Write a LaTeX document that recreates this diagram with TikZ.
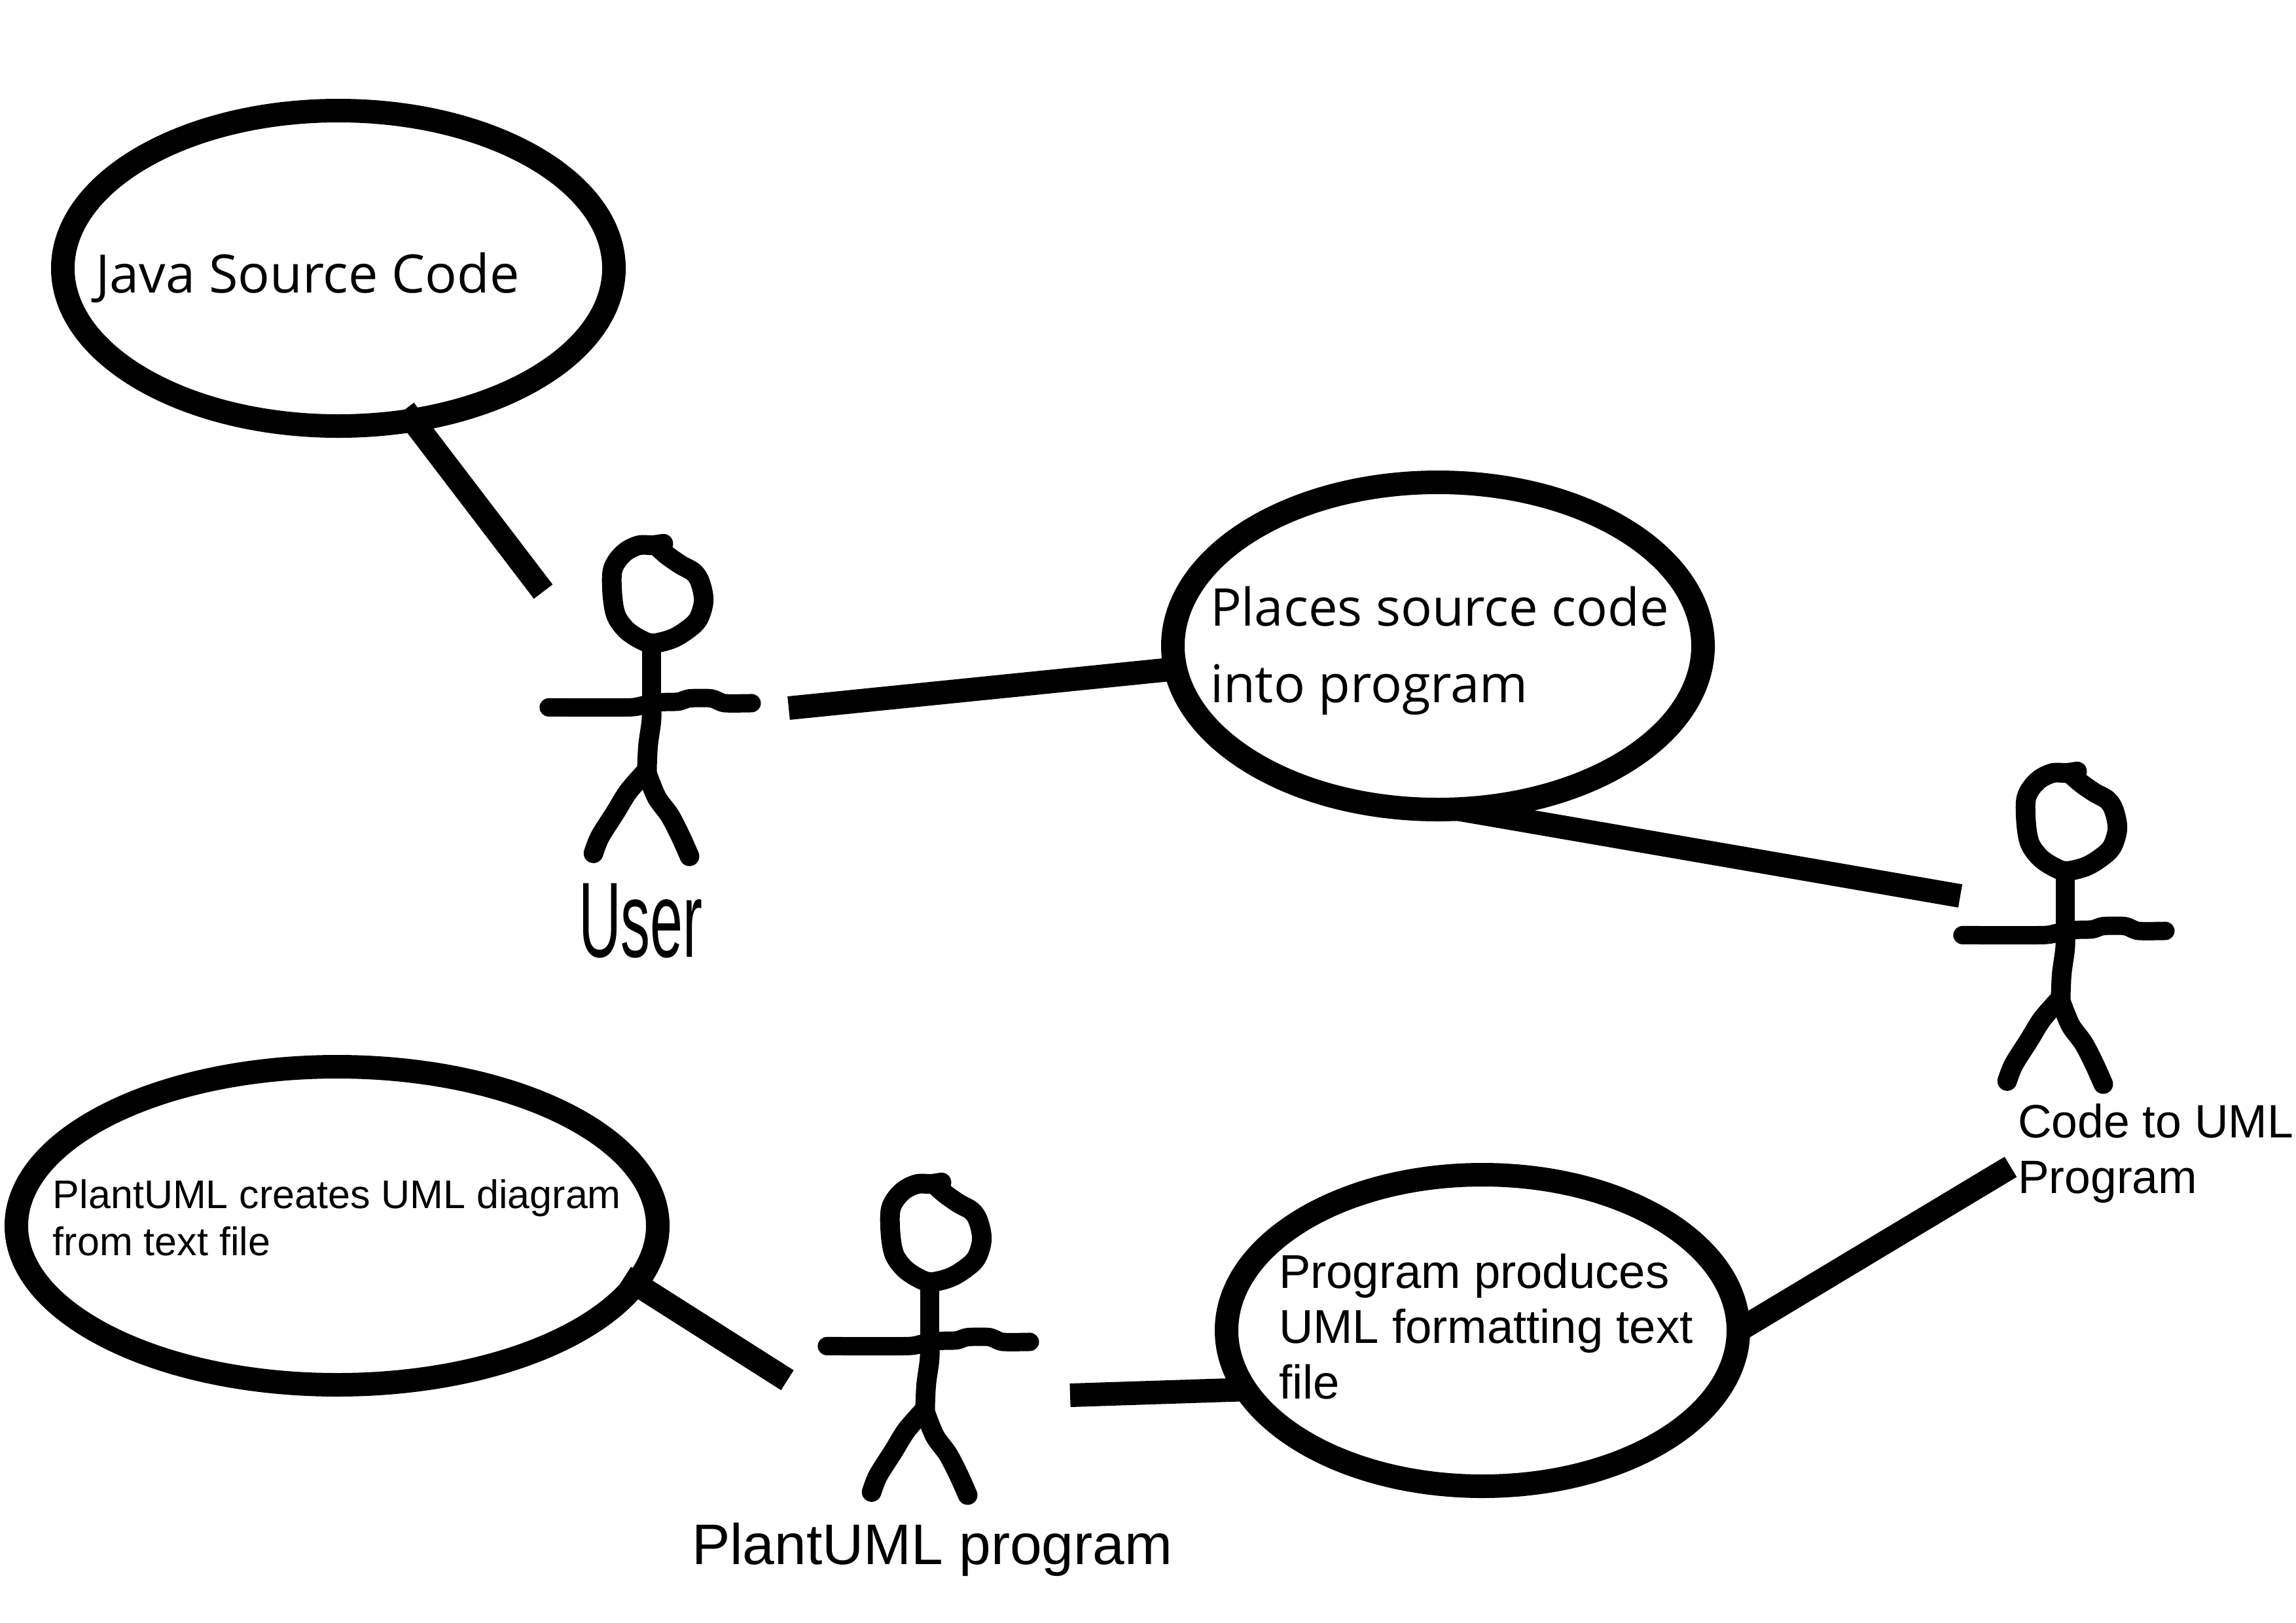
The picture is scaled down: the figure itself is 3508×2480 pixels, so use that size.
\documentclass[tikz,border=0pt]{standalone}
\usepackage{fontspec}
\setmainfont{Liberation Sans}
\newfontfamily\segoe{Open Sans}
\usetikzlibrary{shapes.geometric}
\newcommand{\txtlines}[1]{\begin{tabular}[t]{@{}l@{}}#1\end{tabular}}
\tikzset{
  x=0.2pt,y=-0.2pt,
  usecase/.style={draw=black,line width=7.2pt,ellipse,inner sep=0pt,outer sep=0pt},
  link/.style={draw=black,line width=7.2pt,line cap=butt},
  lbl/.style={anchor=base west,inner sep=0pt,outer sep=0pt,text=black},
  pics/actor/.style={code={
    \begin{scope}[x=0.0667pt,y=-0.0923pt,line join=round,line cap=round]
      \draw[line width=6pt] plot[smooth,tension=.55] coordinates {(640,110)(590,115)(530,115)(470,135)(425,170)(405,210)(408,290)(425,350)(470,395)(530,425)(590,440)(680,425)(750,395)(800,360)(825,300)(810,240)(780,205)(720,180)(660,150)(620,125)};
      \draw[line width=5.8pt,line cap=butt] (587,440)--(587,650);
      \draw[line width=6pt] plot[smooth,tension=.5] coordinates {(587,650)(585,700)(570,780)(565,860)};
      \draw[line width=5.6pt] plot[smooth,tension=.4] coordinates {(115,652)(480,652)(545,645)(630,635)(710,633)(760,622)(860,622)(920,638)(1045,638)};
      \draw[line width=6pt] plot[smooth,tension=.5] coordinates {(565,860)(480,930)(420,1000)(350,1080)(320,1135)};
      \draw[line width=6pt] plot[smooth,tension=.5] coordinates {(565,870)(610,950)(670,1010)(720,1080)(760,1145)};
    \end{scope}
  }}
}
\begin{document}
\begin{tikzpicture}
\useasboundingbox (0,0) rectangle (3508,2480);
\fill[white] (0,0) rectangle (3508,2480);

% use cases
\node[usecase,minimum width=168.4pt,minimum height=96.4pt] (e1) at (517,410) {};
\node[usecase,minimum width=162pt,minimum height=100pt] (e2) at (2197,987) {};
\node[usecase,minimum width=196pt,minimum height=97.2pt] (e3) at (515,1873) {};
\node[usecase,minimum width=156.4pt,minimum height=95.2pt] (e4) at (2265,2033) {};

% actors
\pic (user) at (800,780) {actor};
\pic (code) at (2960,1128) {actor};
\pic (plant) at (1225,1756) {actor};

% free ends, beside the actors
\coordinate (userA) at (830,904);
\coordinate (userB) at (1205,1082);
\coordinate (codeA) at (2995,1369);
\coordinate (codeB) at (3072,1783);
\coordinate (plantA) at (1635,2132);
\coordinate (plantB) at (1203,2109);

% connectors
\draw[link,shorten <=-4pt] (e1.-64.5) -- (userA);
\draw[link] (userB) -- (e2.185.7);
\draw[link] (e2.-83.6) -- (codeA);
\draw[link] (codeB) -- (e4.0);
\draw[link] (plantA) -- (e4.194.4);
\draw[link,shorten <=-4pt] (e3.-11.4) -- (plantB);

% labels
\node[lbl,font=\segoe\fontsize{16.2}{18}\selectfont] (t1) at (146,447) {Java Source Code};
\node[lbl,font=\segoe\fontsize{15.9}{23.4}\selectfont] (t2) at (1849,956) {\txtlines{Places source code\\into program}};
\node[lbl,font=\fontsize{14.5}{16.9}\selectfont] (t3) at (1954,1968) {\txtlines{Program produces\\UML formatting text\\file}};
\node[lbl,font=\fontsize{12.2}{14.4}\selectfont] (t4) at (81,1846) {\txtlines{PlantUML creates UML diagram\\from text file}};
\node[lbl,font=\fontsize{14.3}{17}\selectfont] (t5) at (3083,1738) {\txtlines{Code to UML\\Program}};
\node[lbl,font=\fontsize{17.5}{21}\selectfont] (t6) at (1057,2390) {PlantUML program};
\node[lbl,font=\fontsize{32.7}{38}\selectfont,xscale=.55] (t7) at (884,1462) {User};
\end{tikzpicture}
\end{document}
